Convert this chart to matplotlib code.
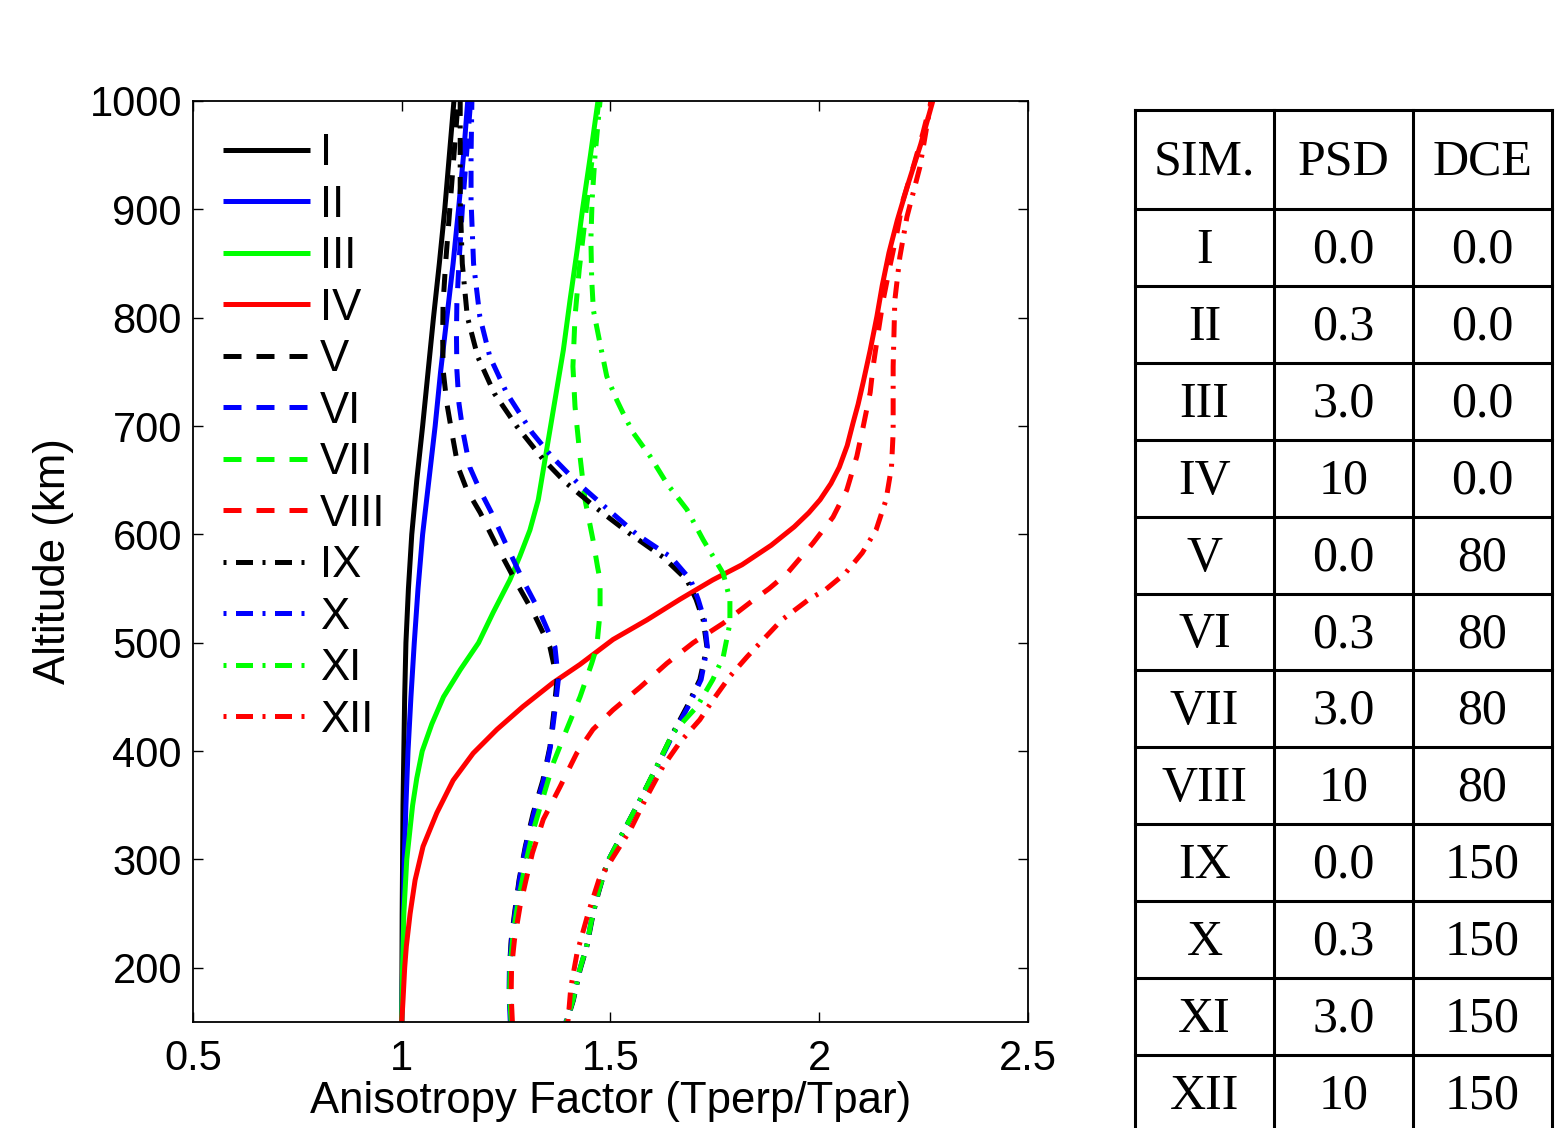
import matplotlib
matplotlib.use('Agg')
from matplotlib import pyplot as plt

plt.rcParams['font.family'] = ['Liberation Sans', 'DejaVu Sans']

# --- profiles: altitude (km) vs anisotropy factor ---
alt_I = [150, 250, 350, 450, 500, 550, 600, 650, 700, 750, 800, 850, 900, 950, 1000]
val_I = [1.000, 1.001, 1.003, 1.007, 1.010, 1.016, 1.024, 1.036, 1.050, 1.063, 1.076, 1.090, 1.103, 1.114, 1.125]

alt_II = [150, 200, 250, 300, 350, 400, 450, 500, 550, 600, 650, 700, 750, 800, 850, 900, 950, 1000]
val_II = [1.000, 1.002, 1.004, 1.006, 1.010, 1.015, 1.022, 1.030, 1.039, 1.050, 1.065, 1.080, 1.093, 1.108, 1.123, 1.136, 1.148, 1.158]

alt_III = [150, 200, 250, 300, 350, 375, 400, 425, 450, 475, 500, 528, 558, 580, 604, 632, 678, 724, 770, 816, 862, 900, 950, 1000]
val_III = [1.000, 1.002, 1.005, 1.012, 1.026, 1.036, 1.049, 1.072, 1.100, 1.140, 1.184, 1.219, 1.259, 1.283, 1.307, 1.327, 1.347, 1.367, 1.387, 1.403, 1.420, 1.433, 1.452, 1.470]

alt_IV = [150, 170, 200, 220, 250, 281, 312, 343, 373, 398, 420, 441, 463, 480, 503, 521, 540, 558, 572, 590, 607, 620, 632, 647, 662, 682, 703, 720, 740, 770, 801, 830, 860, 890, 925, 960, 1000]
val_IV = [1.000, 1.003, 1.007, 1.011, 1.020, 1.032, 1.051, 1.084, 1.123, 1.171, 1.228, 1.290, 1.362, 1.427, 1.506, 1.587, 1.666, 1.745, 1.815, 1.885, 1.940, 1.975, 2.002, 2.028, 2.048, 2.067, 2.081, 2.093, 2.105, 2.122, 2.138, 2.151, 2.167, 2.187, 2.214, 2.243, 2.272]

alt_V = [150, 175, 200, 225, 250, 281, 312, 343, 373, 404, 435, 466, 496, 528, 558, 589, 620, 641, 662, 694, 721, 752, 785, 813, 850, 900, 950, 1000]
val_V = [1.262, 1.258, 1.258, 1.262, 1.270, 1.281, 1.296, 1.315, 1.338, 1.355, 1.364, 1.372, 1.355, 1.315, 1.271, 1.228, 1.188, 1.156, 1.135, 1.120, 1.108, 1.099, 1.098, 1.099, 1.105, 1.115, 1.125, 1.135]

alt_VI = [150, 175, 200, 225, 250, 281, 312, 343, 373, 404, 435, 466, 496, 528, 558, 589, 620, 641, 662, 694, 721, 752, 785, 813, 850, 900, 950, 1000]
val_VI = [1.260, 1.257, 1.258, 1.263, 1.271, 1.282, 1.297, 1.317, 1.340, 1.356, 1.366, 1.375, 1.367, 1.331, 1.290, 1.252, 1.215, 1.187, 1.163, 1.147, 1.137, 1.132, 1.131, 1.132, 1.137, 1.145, 1.155, 1.165]

alt_VII = [150, 175, 204, 235, 266, 297, 327, 358, 389, 420, 450, 481, 496, 528, 558, 570, 595, 632, 672, 718, 755, 801, 844, 900, 950, 1000]
val_VII = [1.262, 1.258, 1.260, 1.268, 1.281, 1.297, 1.315, 1.339, 1.363, 1.395, 1.427, 1.455, 1.467, 1.475, 1.475, 1.469, 1.458, 1.439, 1.427, 1.415, 1.410, 1.415, 1.425, 1.442, 1.457, 1.472]

alt_VIII = [150, 175, 200, 226, 256, 280, 306, 337, 367, 398, 420, 438, 459, 481, 500, 518, 537, 550, 564, 592, 616, 641, 672, 699, 731, 755, 786, 816, 847, 878, 909, 939, 970, 1000]
val_VIII = [1.265, 1.262, 1.263, 1.270, 1.283, 1.297, 1.313, 1.339, 1.379, 1.419, 1.458, 1.506, 1.571, 1.635, 1.698, 1.770, 1.834, 1.880, 1.923, 1.985, 2.033, 2.066, 2.090, 2.105, 2.122, 2.129, 2.141, 2.153, 2.169, 2.186, 2.201, 2.225, 2.248, 2.268]

alt_IX = [150, 170, 198, 219, 251, 269, 297, 325, 355, 386, 417, 441, 466, 496, 521, 540, 558, 579, 601, 624, 648, 670, 700, 730, 764, 801, 850, 908, 950, 1000]
val_IX = [1.395, 1.411, 1.427, 1.443, 1.459, 1.471, 1.492, 1.530, 1.571, 1.611, 1.650, 1.683, 1.714, 1.731, 1.722, 1.705, 1.683, 1.626, 1.545, 1.467, 1.392, 1.337, 1.275, 1.222, 1.182, 1.157, 1.145, 1.140, 1.140, 1.140]

alt_X = [150, 170, 198, 219, 251, 269, 297, 325, 355, 386, 417, 441, 466, 496, 521, 540, 558, 579, 600, 623, 648, 672, 694, 730, 764, 801, 850, 908, 950, 1000]
val_X = [1.393, 1.410, 1.426, 1.442, 1.458, 1.470, 1.492, 1.530, 1.571, 1.612, 1.652, 1.686, 1.717, 1.732, 1.725, 1.710, 1.692, 1.645, 1.563, 1.494, 1.420, 1.359, 1.312, 1.252, 1.211, 1.187, 1.172, 1.166, 1.166, 1.168]

alt_XI = [150, 170, 198, 219, 251, 269, 297, 325, 355, 386, 417, 441, 466, 487, 518, 540, 564, 595, 623, 647, 672, 694, 712, 724, 746, 776, 807, 835, 872, 909, 950, 1000]
val_XI = [1.394, 1.410, 1.426, 1.442, 1.458, 1.470, 1.492, 1.530, 1.571, 1.611, 1.650, 1.707, 1.745, 1.770, 1.786, 1.786, 1.770, 1.722, 1.683, 1.635, 1.595, 1.554, 1.530, 1.515, 1.491, 1.475, 1.459, 1.455, 1.453, 1.456, 1.463, 1.475]

alt_XII = [150, 182, 214, 251, 281, 302, 327, 358, 386, 408, 429, 447, 469, 487, 503, 521, 540, 549, 564, 583, 604, 632, 662, 694, 755, 816, 856, 893, 939, 1000]
val_XII = [1.398, 1.405, 1.420, 1.447, 1.472, 1.506, 1.547, 1.587, 1.626, 1.666, 1.714, 1.745, 1.786, 1.827, 1.866, 1.910, 1.975, 2.015, 2.062, 2.103, 2.136, 2.160, 2.173, 2.177, 2.177, 2.181, 2.193, 2.210, 2.241, 2.268]

sims = ['I', 'II', 'III', 'IV', 'V', 'VI', 'VII', 'VIII', 'IX', 'X', 'XI', 'XII']
psd = ['0.0', '0.3', '3.0', '10', '0.0', '0.3', '3.0', '10', '0.0', '0.3', '3.0', '10']
dce = ['0.0', '0.0', '0.0', '0.0', '80', '80', '80', '80', '150', '150', '150', '150']

alts = [alt_I, alt_II, alt_III, alt_IV, alt_V, alt_VI, alt_VII, alt_VIII, alt_IX, alt_X, alt_XI, alt_XII]
vals = [val_I, val_II, val_III, val_IV, val_V, val_VI, val_VII, val_VIII, val_IX, val_X, val_XI, val_XII]

colors = ['#000000', '#0000ff', '#00ff00', '#ff0000']
# matlab-like line styles: solid, dashed, dash-dot (dot first)
line_styles = ['-', (0, (3.6, 3.0)), (5.3, (3.4, 1.9, 0.6, 1.9))]

W, H = 1555, 1128
fig = plt.figure(figsize=(W / 100, H / 100), dpi=100)
ax = fig.add_axes([193 / W, 1 - 1022 / H, 835 / W, 921 / H])

for i in range(12):
    ax.plot(vals[i], alts[i], color=colors[i % 4], lw=3.6, label=sims[i],
            linestyle=line_styles[i // 4],
            solid_capstyle='butt', dash_capstyle='butt',
            solid_joinstyle='round', dash_joinstyle='round')

ax.set_xlim(0.5, 2.5)
ax.set_ylim(150, 1000)
ax.set_xticks([0.5, 1, 1.5, 2, 2.5])
ax.set_xticklabels(['0.5', '1', '1.5', '2', '2.5'])
ax.set_yticks([200, 300, 400, 500, 600, 700, 800, 900, 1000])
ax.tick_params(direction='in', top=True, right=True, length=7, width=1,
               labelsize=30, pad=8)
ax.tick_params(axis='x', pad=12)
for s in ax.spines.values():
    s.set_linewidth(1.3)
ax.set_xlabel('Anisotropy Factor (Tperp/Tpar)', fontsize=31.5, labelpad=2)
ax.set_ylabel('Altitude (km)', fontsize=31.5, labelpad=11)

leg = ax.legend(loc='upper left', bbox_to_anchor=(0.036, 0.965), frameon=False,
                fontsize=31.5, handlelength=1.99, handletextpad=0.23,
                labelspacing=0.24, borderpad=0, borderaxespad=0)

# --- parameter table ---
tab = fig.add_axes([0, 0, 1, 1])
tab.set_xlim(0, W)
tab.set_ylim(H, 0)
tab.axis('off')

col_edges = [1135, 1274, 1413, 1552]
row_edges = [110, 209, 286, 363, 440, 517, 594, 670, 747, 824, 901, 978, 1055, 1132]
for y in row_edges[:-1]:
    tab.plot([col_edges[0], col_edges[-1]], [y, y], color='k', lw=2.2, solid_capstyle='projecting')
for x in col_edges:
    tab.plot([x, x], [row_edges[0], H + 5], color='k', lw=2.2, solid_capstyle='projecting')

serif = ['Liberation Serif', 'DejaVu Serif']
centers = [(col_edges[j] + col_edges[j + 1]) / 2 for j in range(3)]
header = ['SIM.', 'PSD', 'DCE']
for j in range(3):
    tab.text(centers[j], (row_edges[0] + row_edges[1]) / 2 + 3, header[j], ha='center',
             va='center', fontsize=36, family=serif)
for r in range(12):
    yc = (row_edges[r + 1] + row_edges[r + 2]) / 2 + 3
    for j, txt in enumerate([sims[r], psd[r], dce[r]]):
        tab.text(centers[j], yc, txt, ha='center', va='center', fontsize=36, family=serif)

fig.savefig('out.png', dpi=100, facecolor='white')
